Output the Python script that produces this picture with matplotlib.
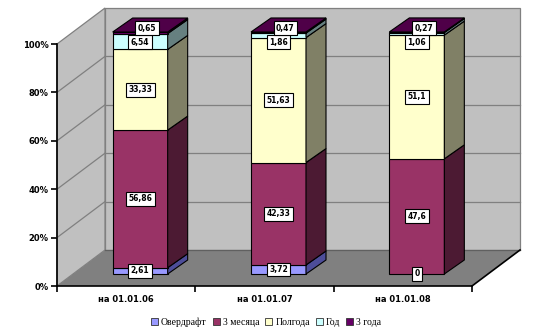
import matplotlib
matplotlib.use("Agg")
import matplotlib.pyplot as plt
from matplotlib.patches import Polygon, Patch
import numpy as np

categories = ["на 01.01.06", "на 01.01.07", "на 01.01.08"]
series_names = ["Овердрафт", "3 месяца", "Полгода", "Год", "3 года"]
overdraft = [2.61, 3.72, 0]
months3 = [56.86, 42.33, 47.6]
halfyear = [33.33, 51.63, 51.1]
year1 = [6.54, 1.86, 1.06]
years3 = [0.65, 0.47, 0.27]
y_ticks = [0, 20, 40, 60, 80, 100]

series_values = [overdraft, months3, halfyear, year1, years3]
front_colors = ["#9999FF", "#993366", "#FFFFCC", "#CCFFFF", "#660066"]
side_colors = ["#4D4D99", "#4C1A33", "#808066", "#668080", "#330033"]
top_color = "#4F0048"

W, H = 536, 333
fig = plt.figure(figsize=(W / 100, H / 100), dpi=100)
ax = fig.add_axes([0, 0, 1, 1])
ax.set_facecolor("none")

# pixel mapping
PX = (472 - 57) / 3.0
PY = (286 - 44) / 100.0
ax.set_xlim(-57 / PX, (W - 57) / PX)
ax.set_ylim(-(H - 286) / PY, 286 / PY)

wall_dx, wall_dy = 48 / PX, 36 / PY
bar_off_x, bar_off_y = 14 / PX, 12 / PY
bar_dx, bar_dy = 20 / PX, 14 / PY
bar_w = 55 / PX
n = len(categories)

# walls
floor = Polygon([(0, 0), (n, 0), (n + wall_dx, wall_dy), (wall_dx, wall_dy)],
                closed=True, facecolor="#808080", edgecolor="none", zorder=1)
ax.add_patch(floor)
back = Polygon([(wall_dx, wall_dy), (n + wall_dx, wall_dy), (n + wall_dx, 100 + wall_dy),
                (wall_dx, 100 + wall_dy)], closed=True, facecolor="#C0C0C0",
               edgecolor="#808080", lw=0.9, zorder=1)
ax.add_patch(back)
left = Polygon([(0, 0), (wall_dx, wall_dy), (wall_dx, 100 + wall_dy), (0, 100)],
               closed=True, facecolor="#C0C0C0", edgecolor="#808080", lw=0.9, zorder=1)
ax.add_patch(left)
for v in y_ticks[1:-1]:
    ax.plot([wall_dx, n + wall_dx], [v + wall_dy, v + wall_dy], color="#808080", lw=0.9, zorder=2)
    ax.plot([0, wall_dx], [v, v + wall_dy], color="#808080", lw=0.9, zorder=2)
ax.plot([wall_dx, n + wall_dx], [wall_dy, wall_dy], color="#606060", lw=0.9, zorder=2)
ax.plot([n, n + wall_dx], [0, wall_dy], color="black", lw=1.2, zorder=2)

# bars
def fmt(v):
    return f"{v:g}".replace(".", ",")

for i in range(n):
    xc = i + 0.5 + bar_off_x
    x0, x1 = xc - bar_w / 2, xc + bar_w / 2
    cum = 0.0
    for s, vals in enumerate(series_values):
        v = vals[i]
        b = cum + bar_off_y
        t = b + v
        if v > 0:
            ax.bar(xc, v, bottom=b, width=bar_w, color=front_colors[s],
                   edgecolor="black", lw=0.8, zorder=5)
            side = Polygon([(x1, b), (x1 + bar_dx, b + bar_dy), (x1 + bar_dx, t + bar_dy), (x1, t)],
                           closed=True, facecolor=side_colors[s], edgecolor="black", lw=0.8, zorder=5)
            ax.add_patch(side)
        cum += v
    # top face
    top_y = cum + bar_off_y
    topf = Polygon([(x0, top_y), (x1, top_y), (x1 + bar_dx, top_y + bar_dy), (x0 + bar_dx, top_y + bar_dy)],
                   closed=True, facecolor=top_color, edgecolor="black", lw=0.8, zorder=5)
    ax.add_patch(topf)

    # labels
    cum = 0.0
    for s, vals in enumerate(series_values):
        v = vals[i]
        cy = cum + v / 2
        lx = xc
        if s == 3:
            cy = min(cy, 95.8)
        if s == 4:
            cy = cum + v + 1.6
            lx = xc + 0.05
        cum += v
        ax.text(lx, cy + bar_off_y, fmt(v), ha="center", va="center", fontsize=5.5,
                fontweight="bold", zorder=10,
                bbox=dict(boxstyle="square,pad=0.32", facecolor="white", edgecolor="black", lw=0.8))

# axes spines / ticks
for sp in ["top", "right"]:
    ax.spines[sp].set_visible(False)
ax.spines["left"].set_position(("data", 0))
ax.spines["bottom"].set_position(("data", 0))
ax.spines["left"].set_bounds(0, 100)
ax.spines["bottom"].set_bounds(0, n)
ax.spines["left"].set_linewidth(1.2)
ax.spines["bottom"].set_linewidth(1.2)
ax.spines["left"].set_zorder(6)
ax.spines["bottom"].set_zorder(6)
ax.set_yticks(y_ticks, [f"{v}%" for v in y_ticks])
ax.tick_params(axis="y", direction="out", length=4, width=1.2, labelsize=6, pad=2)
for lab in ax.get_yticklabels():
    lab.set_fontweight("bold")
ax.set_xticks(np.arange(n + 1), [""] * (n + 1))
ax.set_xticks(np.arange(n) + 0.5, categories, minor=True)
ax.tick_params(axis="x", which="major", direction="out", length=4, width=1.2)
ax.tick_params(axis="x", which="minor", length=0, labelsize=6, pad=6.5)
for lab in ax.get_xticklabels(minor=True):
    lab.set_fontweight("bold")

handles = [Patch(facecolor=c, edgecolor="#333333", lw=0.6) for c in front_colors]
fig.legend(handles, series_names, loc="center", bbox_to_anchor=(266 / W, 1 - 322 / H),
           ncol=5, frameon=False, prop={"family": "Liberation Serif", "size": 7},
           handlelength=0.75, handleheight=0.75, handletextpad=0.3, columnspacing=0.6,
           borderpad=0.1)

fig.savefig("out.png", dpi=100)
